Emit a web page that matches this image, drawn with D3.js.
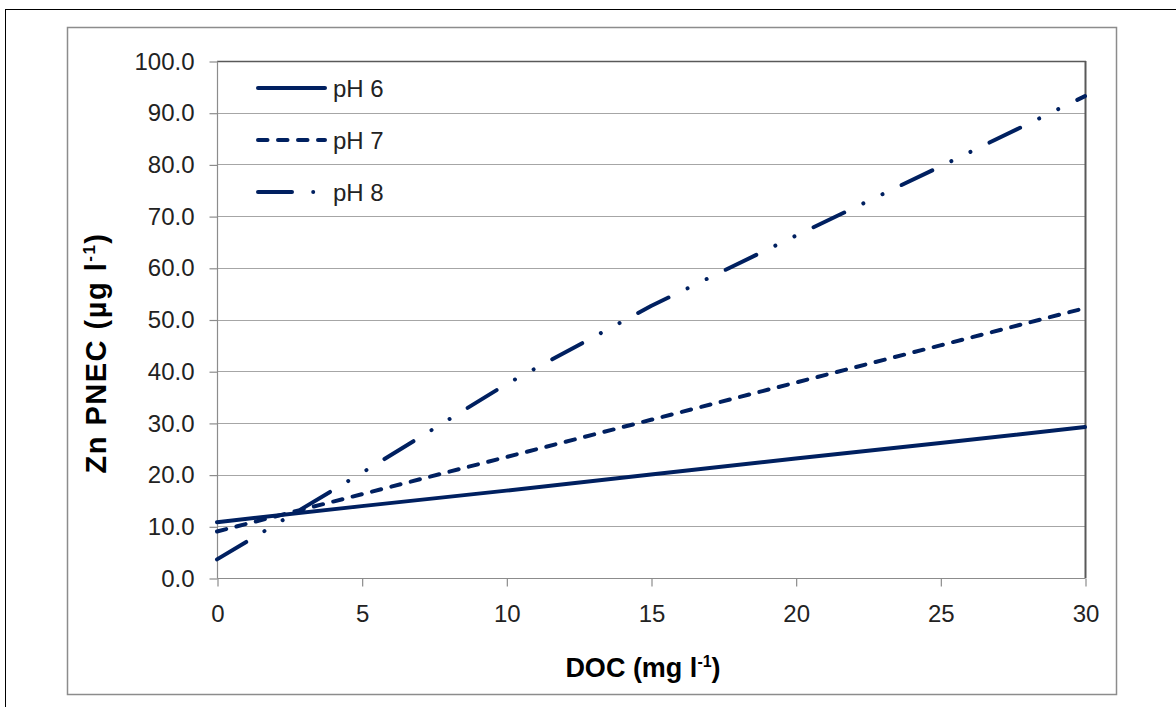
<!DOCTYPE html>
<html>
<head>
<meta charset="utf-8">
<script src="https://cdn.jsdelivr.net/npm/d3@7"></script>
<style>
  html, body { margin: 0; padding: 0; background: #fff; }
  svg { display: block; }
</style>
</head>
<body>
<svg id="chart" width="1176" height="707"></svg>
<script>
// ---- data ----
const doc = [0, 5, 10, 15, 20, 25, 30];
const pH6 = [10.8, 13.9, 16.9, 20.0, 23.1, 26.1, 29.2];
const pH7 = [9.0, 16.2, 23.4, 30.6, 37.8, 45.0, 52.2];
const pH8 = [3.6, 20.3, 37.5, 52.6, 66.2, 79.6, 93.2];
const seriesNames = ["pH 6", "pH 7", "pH 8"];
const yTicks = [0, 10, 20, 30, 40, 50, 60, 70, 80, 90, 100];
const xTicks = [0, 5, 10, 15, 20, 25, 30];

const svg = d3.select("#chart");
const color = "#002060";
const font = "'Liberation Sans', Arial, sans-serif";

// outer border
svg.append("rect").attr("x", 5.5).attr("y", 9.5).attr("width", 1180).attr("height", 720)
  .attr("fill", "none").attr("stroke", "#000").attr("stroke-width", 1);
// chart area border
svg.append("rect").attr("x", 67.5).attr("y", 27.5).attr("width", 1049).attr("height", 667)
  .attr("fill", "#fff").attr("stroke", "#8c8c8c").attr("stroke-width", 1.5);

const x = d3.scaleLinear().domain([0, 30]).range([217, 1085]);
const y = d3.scaleLinear().domain([0, 100]).range([578, 61]);

// gridlines
svg.append("g").selectAll("line").data(yTicks.slice(1)).join("line")
  .attr("x1", x(0)).attr("x2", x(30))
  .attr("y1", d => Math.round(y(d)) + 0.5).attr("y2", d => Math.round(y(d)) + 0.5)
  .attr("stroke", "#a6a6a6").attr("stroke-width", 1.2);

// plot border (top/right darker)
svg.append("line").attr("x1", x(0)).attr("x2", x(30) + 1).attr("y1", 61.5).attr("y2", 61.5)
  .attr("stroke", "#595959").attr("stroke-width", 1.5);
svg.append("line").attr("x1", x(30) + 0.5).attr("x2", x(30) + 0.5).attr("y1", 61).attr("y2", 578)
  .attr("stroke", "#595959").attr("stroke-width", 2);

// axes
const yAxis = d3.axisLeft(y).tickValues(yTicks).tickFormat(d3.format(".1f")).tickSize(8).tickPadding(15);
const xAxis = d3.axisBottom(x).tickValues(xTicks).tickFormat(d3.format("d")).tickSize(8).tickPadding(18);

const gy = svg.append("g").attr("transform", "translate(" + (x(0) + 0.5) + ",0.5)").call(yAxis);
const gx = svg.append("g").attr("transform", "translate(0.5," + (y(0) + 0.5) + ")").call(xAxis);
[gx, gy].forEach(g => {
  g.select(".domain").attr("stroke", "#8c8c8c").attr("stroke-width", 1.2);
  g.selectAll(".tick line").attr("stroke", "#8c8c8c").attr("stroke-width", 1.2);
  g.selectAll(".tick text").attr("fill", "#222").style("font-family", font).style("font-size", "24px");
});
gy.select(".domain").attr("d", "M0," + y(100) + "V" + y(0));
gx.select(".domain").attr("d", "M" + x(0) + ",0H" + x(30));

// series lines
const series = [
  { name: seriesNames[0], vals: pH6, dash: null },
  { name: seriesNames[1], vals: pH7, dash: "9.5,10.5" },
  { name: seriesNames[2], vals: pH8, dash: "34,21.2,0.01,21.2,0.01,21.2" }
];
const line = d3.line().x(d => x(d[0])).y(d => y(d[1]));

svg.append("g").selectAll("path").data(series).join("path")
  .attr("d", s => line(doc.map((dv, i) => [dv, s.vals[i]])))
  .attr("fill", "none").attr("stroke", color).attr("stroke-width", 4)
  .attr("stroke-linecap", "round").attr("stroke-linejoin", "round")
  .attr("stroke-dasharray", s => s.dash);

// legend
const legY = [88, 140, 192];
const leg = svg.append("g");
series.forEach((s, i) => {
  leg.append("line").attr("x1", 258).attr("x2", 325).attr("y1", legY[i]).attr("y2", legY[i])
    .attr("stroke", color).attr("stroke-width", 4).attr("stroke-linecap", "round")
    .attr("stroke-dasharray", s.dash);
  leg.append("text").attr("x", 333).attr("y", legY[i] + 8.5)
    .style("font-family", font).style("font-size", "24px").attr("fill", "#222")
    .text(s.name);
});

// axis titles
const xt = svg.append("text").attr("x", 643).attr("y", 677).attr("text-anchor", "middle")
  .style("font-family", font).style("font-size", "27px").style("font-weight", "bold").attr("fill", "#000");
xt.append("tspan").text("DOC (mg l");
xt.append("tspan").attr("dy", -10).style("font-size", "16px").text("-1");
xt.append("tspan").attr("dy", 10).text(")");

const yt = svg.append("text").attr("transform", "translate(106,353) rotate(-90)").attr("text-anchor", "middle")
  .style("font-family", font).style("font-size", "29px").style("font-weight", "bold")
  .style("letter-spacing", "1.5px").attr("fill", "#000");
yt.append("tspan").text("Zn PNEC (µg l");
yt.append("tspan").attr("dy", -11).style("font-size", "17px").text("-1");
yt.append("tspan").attr("dy", 11).text(")");
</script>
</body>
</html>
